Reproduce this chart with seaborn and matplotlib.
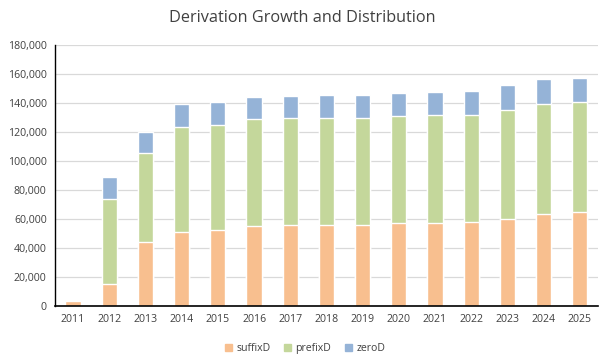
import numpy as np
import pandas as pd
import matplotlib
matplotlib.use("Agg")
import matplotlib.pyplot as plt
import seaborn as sns
from matplotlib.patches import Patch

# data
years = ["2011", "2012", "2013", "2014", "2015", "2016", "2017", "2018",
         "2019", "2020", "2021", "2022", "2023", "2024", "2025"]
suffixD = [3500, 15200, 44200, 51300, 52200, 55500, 56200, 56200,
           56200, 57100, 57500, 58200, 60100, 63700, 65100]
prefixD = [600, 58700, 61400, 72300, 72800, 73600, 73600, 73600,
           73600, 74100, 74400, 73700, 75200, 75800, 75300]
zeroD = [300, 15200, 14500, 15900, 15900, 15200, 15200, 15900,
         15900, 15900, 15900, 16500, 17300, 17300, 17000]

c_suffix = "#F8BF8F"
c_prefix = "#C4D79B"
c_zero = "#95B3D7"

df = pd.DataFrame({"year": years, "suffixD": suffixD, "prefixD": prefixD, "zeroD": zeroD})
df["lvl2"] = df["suffixD"] + df["prefixD"]
df["lvl3"] = df["lvl2"] + df["zeroD"]

sns.set_style("white")
plt.rcParams["font.family"] = ["Open Sans", "DejaVu Sans"]

fig, ax = plt.subplots(figsize=(6.04, 3.63), dpi=100)
fig.subplots_adjust(left=0.091, right=0.99, top=0.876, bottom=0.157)

# overlapped cumulative bars -> stacked look
w = 0.42
sns.barplot(data=df, x="year", y="lvl3", color=c_zero, width=w, saturation=1, ax=ax, zorder=3)
sns.barplot(data=df, x="year", y="lvl2", color=c_prefix, width=w, saturation=1, ax=ax, zorder=3)
sns.barplot(data=df, x="year", y="suffixD", color=c_suffix, width=w, saturation=1, ax=ax, zorder=3)

ax.set_ylim(0, 180000)
ax.set_xlim(-0.5, len(years) - 0.5)
ax.set_yticks(np.arange(0, 180001, 20000))
ax.yaxis.set_major_formatter(matplotlib.ticker.FuncFormatter(lambda v, p: f"{int(v):,}"))
ax.grid(axis="y", color="#D9D9D9", linewidth=0.9, zorder=0)
ax.set_axisbelow(True)
ax.set_xlabel("")
ax.set_ylabel("")
ax.tick_params(axis="both", length=0, labelsize=7.6, colors="#404040", pad=6)

for s in ["top", "right"]:
    ax.spines[s].set_visible(False)
ax.spines["left"].set_color("#000000")
ax.spines["bottom"].set_color("#000000")
ax.spines["left"].set_linewidth(1.0)
ax.spines["bottom"].set_linewidth(1.2)
ax.spines["bottom"].set_zorder(4)

# title centred on the whole figure, like the Excel chart
fig.text(0.5, 0.95, "Derivation Growth and Distribution", ha="center", va="center",
         fontsize=11.7, color="#404040")

handles = [Patch(color=c_suffix, label="suffixD"),
           Patch(color=c_prefix, label="prefixD"),
           Patch(color=c_zero, label="zeroD")]
fig.legend(handles=handles, loc="center", bbox_to_anchor=(0.505, 0.04), ncol=3, frameon=False,
           fontsize=7.6, handlelength=0.7, handleheight=0.7, handletextpad=0.4,
           columnspacing=1.3, labelcolor="#404040")

fig.savefig("out.png", dpi=100)
